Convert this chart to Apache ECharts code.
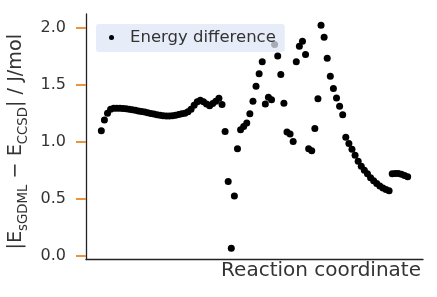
<!DOCTYPE html>
<html><head><meta charset="utf-8">
<script src="https://cdn.jsdelivr.net/npm/echarts@6/dist/echarts.min.js"></script>
<style>html,body{margin:0;padding:0;background:#fff}#c{width:437px;height:297px}</style>
</head><body><div id="c"></div>
<script>
const seriesName = 'Energy difference';
const energyDiff = [
  1.096, 1.19, 1.25, 1.285, 1.293, 1.294, 1.293, 1.291, 1.288, 1.284,
  1.28, 1.276, 1.27, 1.265, 1.26, 1.255, 1.248, 1.242, 1.237, 1.232,
  1.228, 1.225, 1.225, 1.228, 1.232, 1.238, 1.245, 1.25, 1.262, 1.285,
  1.32, 1.35, 1.363, 1.35, 1.33, 1.316, 1.335, 1.355, 1.38, 1.325,
  1.09, 0.652, 0.068, 0.526, 0.94, 1.105, 1.134, 1.164, 1.245, 1.354,
  1.485, 1.596, 1.70, 1.33, 1.39, 1.368, 1.85, 1.75, 1.588, 1.336,
  1.085, 1.067, 1.003, 1.70, 1.836, 1.88, 1.763, 0.939, 0.921, 1.117,
  1.376, 2.02, 1.915, 1.73, 1.573, 1.465, 1.383, 1.31, 1.237, 1.04,
  0.985, 0.935, 0.882, 0.83, 0.787, 0.75, 0.72, 0.685, 0.66, 0.635,
  0.613, 0.595, 0.582, 0.572, 0.72, 0.722, 0.722, 0.715, 0.705, 0.695
];
const yTickValues = [0, 0.5, 1.0, 1.5, 2.0];
const xAxisTitle = 'Reaction coordinate';

const points = energyDiff.map((v, i) => [i, v]);
const n = energyDiff.length;
const yMinD = Math.min(...energyDiff), yMaxD = Math.max(...energyDiff);
const yPad = 0.05 * (yMaxD - yMinD);

const chart = echarts.init(document.getElementById('c'), null, {renderer: 'canvas'});
const FONT = 'DejaVu Sans';
chart.setOption({
  animation: false,
  backgroundColor: '#ffffff',
  grid: {left: 86, right: 14, top: 14, bottom: 37.5, containLabel: false, outerBoundsMode: 'none'},
  legend: {
    data: [{name: seriesName, icon: 'circle'}],
    left: 96, top: 24,
    itemWidth: 5, itemHeight: 5,
    padding: [4, 9, 5, 13],
    backgroundColor: 'rgba(222,230,246,0.75)',
    borderRadius: 3,
    textStyle: {fontFamily: FONT, fontSize: 16.5, color: '#333', lineHeight: 19, padding: [0, 0, 0, 11]},
    itemStyle: {color: '#000', opacity: 1}
  },
  xAxis: {
    type: 'value',
    min: -0.05 * (n - 1), max: 1.05 * (n - 1),
    axisLine: {show: true, onZero: false, lineStyle: {color: '#222', width: 1.3}},
    axisTick: {show: false},
    axisLabel: {show: false},
    splitLine: {show: false},
    name: xAxisTitle,
    nameLocation: 'end',
    nameGap: -2,
    nameTextStyle: {fontFamily: FONT, fontSize: 20, color: '#333', align: 'right', verticalAlign: 'top', padding: [1, 0, 0, 0]}
  },
  yAxis: {
    type: 'value',
    min: yMinD - yPad, max: yMaxD + yPad,
    axisLine: {show: true, onZero: false, lineStyle: {color: '#222', width: 1.3}},
    axisTick: {show: true, inside: false, customValues: yTickValues, length: 10, lineStyle: {color: '#e6892e', width: 1.8}},
    axisLabel: {customValues: yTickValues, margin: 20, fontFamily: FONT, fontSize: 16, color: '#333',
      formatter: v => v.toFixed(1)},
    splitLine: {show: false},
    name: '{m||E}{s|sGDML}{m| − E}{s|CCSD}{m|| / J/mol}{sp|}',
    nameLocation: 'middle',
    nameRotate: 90,
    nameGap: 54,
    nameTextStyle: {
      rich: {
        m: {fontFamily: FONT, fontSize: 19.2, color: '#333', lineHeight: 28},
        s: {fontFamily: FONT, fontSize: 13.3, color: '#333', lineHeight: 14, verticalAlign: 'bottom'},
        sp: {width: 10, fontSize: 10, lineHeight: 14}
      }
    }
  },
  series: [{
    name: seriesName,
    type: 'scatter',
    data: points,
    symbol: 'circle',
    symbolSize: 7,
    itemStyle: {color: '#000', opacity: 1}
  }]
});
</script>
</body></html>
